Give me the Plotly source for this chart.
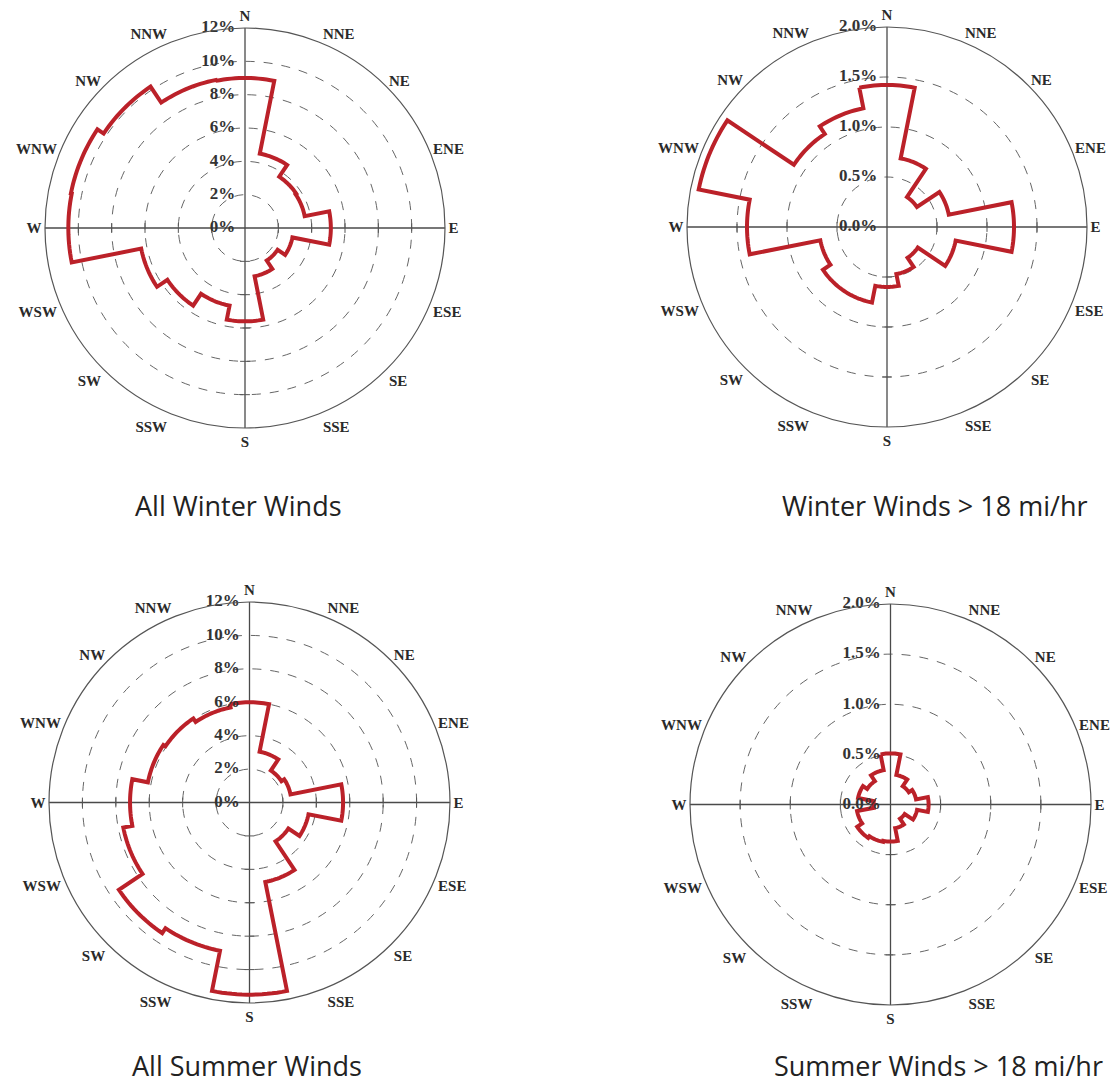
import numpy as np
import plotly.graph_objects as go

# Compass sectors (16 points, 22.5 degrees each)
directions = ["N", "NNE", "NE", "ENE", "E", "ESE", "SE", "SSE",
              "S", "SSW", "SW", "WSW", "W", "WNW", "NW", "NNW"]
direction_angles = [22.5 * i for i in range(16)]

# Frequency of wind from each direction (% of hours)
winter_all = [9.0, 4.55, 3.7, 3.65, 5.15, 2.9, 2.35, 2.95,
              5.6, 4.75, 5.6, 6.35, 10.6, 10.65, 10.2, 9.05]
winter_strong = [1.42, 0.70, 0.36, 0.63, 1.27, 0.70, 0.37, 0.48,
                 0.60, 0.77, 0.77, 0.68, 1.40, 1.92, 1.12, 1.21]
summer_all = [6.0, 3.1, 2.3, 2.5, 5.6, 3.6, 2.8, 4.85,
              11.5, 9.05, 9.4, 7.7, 7.15, 6.2, 6.05, 5.8]
summer_strong = [0.51, 0.30, 0.22, 0.26, 0.38, 0.27, 0.17, 0.24,
                 0.37, 0.38, 0.40, 0.34, 0.17, 0.33, 0.28, 0.35]

# Radial scales
ticks_all = [0, 2, 4, 6, 8, 10, 12]
tick_labels_all = ["0%", "2%", "4%", "6%", "8%", "10%", "12%"]
ticks_strong = [0.0, 0.5, 1.0, 1.5, 2.0]
tick_labels_strong = ["0.0%", "0.5%", "1.0%", "1.5%", "2.0%"]

titles = ["All Winter Winds", "Winter Winds > 18 mi/hr",
          "All Summer Winds", "Summer Winds > 18 mi/hr"]

W, H = 1113, 1085
RED = "#bb2129"
DARK = "#2a2a2a"
SERIF = "Liberation Serif"


def px_domain(x0, y0, size):
    return dict(x=[x0 / W, (x0 + size) / W], y=[1 - (y0 + size) / H, 1 - y0 / H])


# (series, tick values, tick labels, domain in pixels, title x centre, title row)
panels = [
    (winter_all, ticks_all, tick_labels_all, px_domain(45, 28, 400), 238, "top"),
    (winter_strong, ticks_strong, tick_labels_strong, px_domain(687, 27, 400), 935, "top"),
    (summer_all, ticks_all, tick_labels_all, px_domain(49, 602, 401), 247, "bottom"),
    (summer_strong, ticks_strong, tick_labels_strong, px_domain(690, 604, 401), 938, "bottom"),
]


def rose_outline(values, n_arc=16):
    """Outer envelope of the 16 sector bars: an arc per sector, joined radially."""
    theta, r = [], []
    for i, v in enumerate(values):
        c = 22.5 * i
        for a in np.linspace(c - 11.25, c + 11.25, n_arc):
            theta.append(a)
            r.append(v)
    theta.append(theta[0])
    r.append(r[0])
    return theta, r


fig = go.Figure()
layout_polars = {}

for k, (vals, tv, tl, dom, tx, row) in enumerate(panels, start=1):
    pname = "polar" if k == 1 else f"polar{k}"
    rmax = tv[-1]
    rings = tv[1:-1]

    # N-S and E-W cross lines
    for a, b in [(0, 180), (90, 270)]:
        fig.add_trace(go.Scatterpolar(
            r=[rmax, 0, rmax], theta=[a, a, b], mode="lines",
            line=dict(color="#4a4a4a", width=1.3), hoverinfo="skip",
            showlegend=False, subplot=pname))

    # small tick marks where the rings cross the E, W and S axes
    fig.add_trace(go.Scatterpolar(
        r=rings + rings, theta=[90] * len(rings) + [270] * len(rings),
        mode="markers", marker=dict(symbol="line-ns", size=7,
                                    line=dict(color="#555", width=1)),
        hoverinfo="skip", showlegend=False, subplot=pname))
    fig.add_trace(go.Scatterpolar(
        r=rings, theta=[180] * len(rings),
        mode="markers", marker=dict(symbol="line-ew", size=7,
                                    line=dict(color="#555", width=1)),
        hoverinfo="skip", showlegend=False, subplot=pname))

    # wind rose envelope
    th, rr = rose_outline(vals)
    fig.add_trace(go.Scatterpolar(
        r=rr, theta=th, mode="lines",
        line=dict(color=RED, width=4),
        hoverinfo="skip", showlegend=False, subplot=pname))

    # radial tick labels along the north axis
    fig.add_trace(go.Scatterpolar(
        r=tv, theta=[0] * len(tv), mode="markers+text", text=tl,
        textposition="middle left",
        marker=dict(size=14, opacity=0),
        textfont=dict(family=SERIF, size=17, color="#333", weight="bold"),
        hoverinfo="skip", showlegend=False, subplot=pname))

    layout_polars[pname] = dict(
        domain=dom,
        bgcolor="white",
        radialaxis=dict(range=[0, rmax], tickvals=rings, showticklabels=False,
                        ticks="", showline=False, gridcolor="#666666",
                        gridwidth=1, griddash="dash"),
        angularaxis=dict(rotation=90, direction="clockwise", showgrid=False,
                         tickmode="array", tickvals=direction_angles,
                         ticktext=directions, ticks="", ticklen=0,
                         showticklabels=True,
                         tickfont=dict(family=SERIF, size=15, color=DARK,
                                       weight="bold"),
                         showline=True, linecolor="#555", linewidth=1.2),
    )

    if row == "top":
        ty, yanchor = 1 - 505 / H, "middle"
    else:
        ty, yanchor = 0.0, "bottom"
    fig.add_annotation(
        text=titles[k - 1], x=tx / W, y=ty,
        xref="paper", yref="paper", xanchor="center", yanchor=yanchor,
        showarrow=False, borderpad=0,
        font=dict(family="Open Sans", size=27, color="#222"))

fig.update_layout(
    width=W, height=H,
    margin=dict(l=0, r=0, t=0, b=0),
    paper_bgcolor="white",
    plot_bgcolor="white",
    **layout_polars,
)

fig.write_html("out.html")
